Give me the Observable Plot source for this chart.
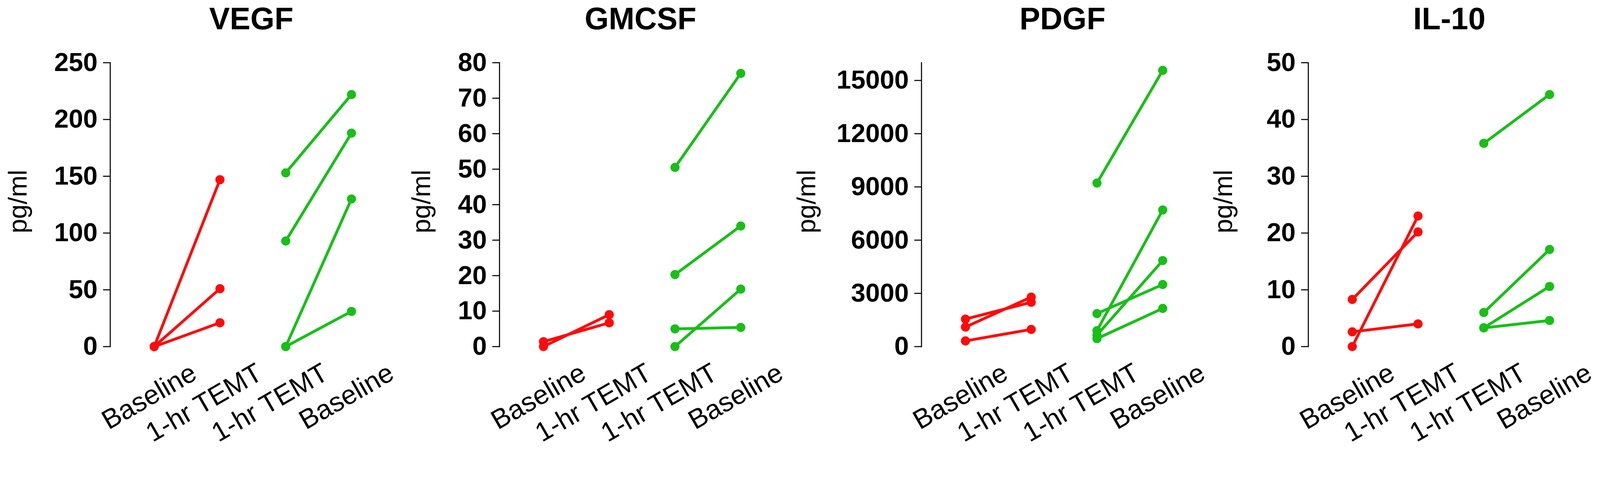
<!DOCTYPE html>
<html><head><meta charset="utf-8">
<script src="https://cdn.jsdelivr.net/npm/d3@7"></script>
<script src="https://cdn.jsdelivr.net/npm/@observablehq/plot@0.6"></script>
<style>
html,body{margin:0;padding:0;background:#fff;overflow:hidden;}
#chart{position:relative;width:4550px;height:1276px;overflow:hidden;background:#fff;transform-origin:0 0;}
#chart svg{position:absolute;top:0;}
#chart g[aria-label="y-axis tick label"] text{font-weight:bold;}
</style></head><body><div id="chart"></div>
<script>
// ---- data ----
const panelTitles = ["VEGF", "GMCSF", "PDGF", "IL-10"];
const xKeys = ["redBase", "redTemt", "greenTemt", "greenBase"];
const xLabels = ["Baseline", "1-hr TEMT", "1-hr TEMT", "Baseline"];
const yLabel = "pg/ml";

// each pair: [first time point, second time point] for one subject
const vegfRed = [[0, 147], [0, 51], [0, 21]];
const vegfGreen = [[153, 222], [93, 188], [0, 130], [0, 31]];
const gmcsfRed = [[1.4, 6.7], [0, 9.0]];
const gmcsfGreen = [[50.5, 77], [20.3, 34], [0, 16.2], [5.0, 5.4]];
const pdgfRed = [[1550, 2500], [1100, 2790], [320, 970]];
const pdgfGreen = [[9220, 15570], [1860, 3500], [900, 7700], [650, 4850], [450, 2150]];
const il10Red = [[8.3, 20.2], [0, 23.0], [2.6, 4.0]];
const il10Green = [[35.8, 44.4], [6.0, 17.1], [3.3, 10.6], [3.3, 4.6]];

const vegfTicks = [0, 50, 100, 150, 200, 250];
const gmcsfTicks = [0, 10, 20, 30, 40, 50, 60, 70, 80];
const pdgfTicks = [0, 3000, 6000, 9000, 12000, 15000];
const il10Ticks = [0, 10, 20, 30, 40, 50];
const yMax = [250, 80, 16000, 50];

const groupNames = ["groupRed", "groupGreen"];
const groupColors = ["#ff0a0a", "#17c017"];

// ---- layout ----
const H = 1276;
const panelLeft = [0, 1137, 2230, 3400];
const panelWidth = [1137, 1093, 1170, 1150];
const axisX = [313, 1420, 2620, 3720];
const yLabelX = [75, 1223, 2318, 3503];
const marginTop = 178, marginBottom = 290;

const reds = [vegfRed, gmcsfRed, pdgfRed, il10Red];
const greens = [vegfGreen, gmcsfGreen, pdgfGreen, il10Green];
const ticks = [vegfTicks, gmcsfTicks, pdgfTicks, il10Ticks];

const font = "'Liberation Sans', Arial, Helvetica, sans-serif";
const chart = document.getElementById("chart");

panelTitles.forEach((title, i) => {
  const rows = [];
  reds[i].forEach((pair, s) => {
    rows.push({subject: "r" + s, group: groupNames[0], key: xKeys[0], value: pair[0]});
    rows.push({subject: "r" + s, group: groupNames[0], key: xKeys[1], value: pair[1]});
  });
  greens[i].forEach((pair, s) => {
    rows.push({subject: "g" + s, group: groupNames[1], key: xKeys[2], value: pair[0]});
    rows.push({subject: "g" + s, group: groupNames[1], key: xKeys[3], value: pair[1]});
  });
  const ml = axisX[i] - panelLeft[i];
  const W = panelWidth[i];
  const plot = Plot.plot({
    width: W,
    height: H,
    marginLeft: ml,
    marginRight: W - ml - 700,
    marginTop,
    marginBottom,
    style: {fontFamily: font, background: "transparent", overflow: "visible", maxWidth: "none", color: "#000"},
    x: {type: "point", domain: xKeys, range: [ml + 125, ml + 686], padding: 0, axis: null},
    y: {domain: [0, yMax[i]], axis: null},
    color: {domain: groupNames, range: groupColors},
    marks: [
      Plot.frame({anchor: "left", stroke: "#000", strokeWidth: 3}),
      Plot.axisY({ticks: ticks[i], tickSize: 20, tickPadding: 16, fontSize: 74, fontWeight: "bold", strokeWidth: 3, label: null, tickFormat: d => String(d)}),
      Plot.line(rows, {x: "key", y: "value", z: "subject", stroke: "group", strokeWidth: 8}),
      Plot.dot(rows, {x: "key", y: "value", fill: "group", r: 13, stroke: null}),
      Plot.text(xKeys, {x: d => d, text: (d, j) => xLabels[j], frameAnchor: "bottom", dx: 126, dy: 90, rotate: -30, textAnchor: "end", lineAnchor: "bottom", fontSize: 77, fill: "#000"}),
      Plot.text([yLabel], {frameAnchor: "left", dx: yLabelX[i] - axisX[i], dy: -9, rotate: -90, textAnchor: "middle", lineAnchor: "bottom", fontSize: 74, fill: "#000"}),
      Plot.text([title], {frameAnchor: "top-left", dx: 401, dy: 83 - marginTop, textAnchor: "middle", lineAnchor: "bottom", fontSize: 88, fontWeight: "bold", fill: "#000"})
    ]
  });
  plot.style.left = panelLeft[i] + "px";
  chart.appendChild(plot);
});

function fit() {
  const s = Math.min(window.innerWidth / 4550, window.innerHeight / 1276);
  chart.style.transform = s < 0.999 ? `scale(${s})` : "none";
}
fit();
window.addEventListener("resize", fit);
</script></body></html>
